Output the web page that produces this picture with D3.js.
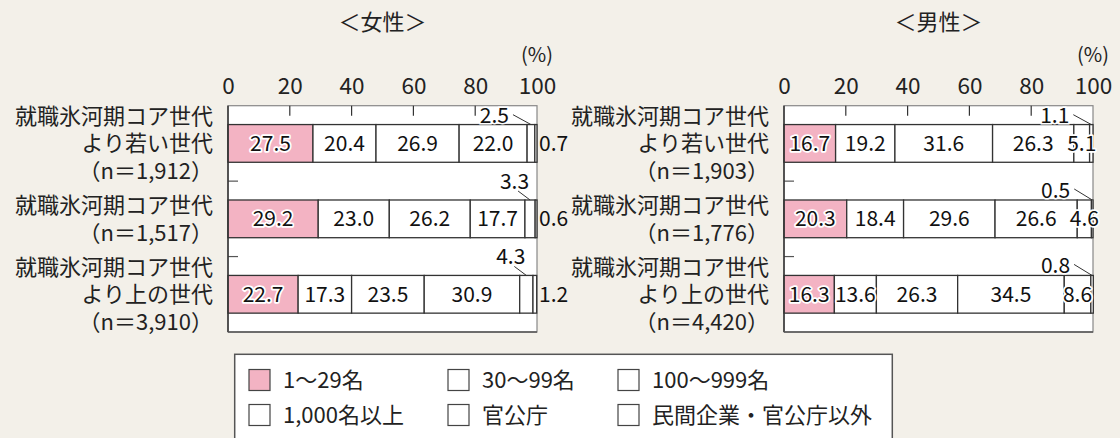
<!DOCTYPE html>
<html><head><meta charset="utf-8">
<script src="https://cdn.jsdelivr.net/npm/d3@7"></script>
<style>
html,body{margin:0;padding:0;background:#f3f0e9;}
svg{display:block;font-family:"Noto Sans CJK JP","Noto Sans",sans-serif;}
</style></head>
<body>
<svg id="c" width="1120" height="438"></svg>
<script>
// ---- data ----
const seriesNames = ["1～29名","30～99名","100～999名","1,000名以上","官公庁","民間企業・官公庁以外"];
const femaleCategories = [
  ["就職氷河期コア世代","より若い世代","（n＝1,912）"],
  ["就職氷河期コア世代","（n＝1,517）"],
  ["就職氷河期コア世代","より上の世代","（n＝3,910）"]
];
const maleCategories = [
  ["就職氷河期コア世代","より若い世代","（n＝1,903）"],
  ["就職氷河期コア世代","（n＝1,776）"],
  ["就職氷河期コア世代","より上の世代","（n＝4,420）"]
];
const femaleValues = [
  [27.5,20.4,26.9,22.0,2.5,0.7],
  [29.2,23.0,26.2,17.7,3.3,0.6],
  [22.7,17.3,23.5,30.9,4.3,1.2]
];
const maleValues = [
  [16.7,19.2,31.6,26.3,5.1,1.1],
  [20.3,18.4,29.6,26.6,4.6,0.5],
  [16.3,13.6,26.3,34.5,8.6,0.8]
];
const xTicks = [0,20,40,60,80,100];
const panelTitles = ["＜女性＞","＜男性＞"];

// ---- layout / style ----
const colors = ["#f3b3c3","#ffffff","#ffffff","#ffffff","#ffffff","#ffffff"];
const plotTop = 105.7, plotBottom = 332;
const panels = [
  {title:panelTitles[0], cats:femaleCategories, vals:femaleValues, x0:228, x1:537,
   labelMode:["in","in","in","in","callout","right"], lift:19},
  {title:panelTitles[1], cats:maleCategories, vals:maleValues, x0:784, x1:1093,
   labelMode:["in","in","in","in","in","callout"], lift:10}
];
const svg = d3.select("#c");
const FS = 21;

panels.forEach(p => {
  const g = svg.append("g");
  const x = d3.scaleLinear().domain([0,100]).range([p.x0,p.x1]);
  const idx = p.cats.map((c,i)=>i);
  const y = d3.scaleBand().domain(idx).range([plotTop,plotBottom]).paddingInner(0.5).paddingOuter(0.25);

  // title
  g.append("text").attr("x",(p.x0+p.x1)/2).attr("y",30).attr("text-anchor","middle")
    .attr("font-size",22).attr("fill","#222").text(p.title);
  g.append("text").attr("x",p.x1).attr("y",62).attr("text-anchor","middle")
    .attr("font-size",20).attr("fill","#222").text("(%)");

  // plot bg
  g.append("rect").attr("x",p.x0).attr("y",plotTop).attr("width",p.x1-p.x0).attr("height",plotBottom-plotTop)
    .attr("fill","#fff").attr("stroke","#888").attr("stroke-width",1.2);

  // top axis
  const ax = d3.axisTop(x).tickValues(xTicks).tickSize(0).tickPadding(0).tickFormat(d3.format("d"));
  const axg = g.append("g").attr("transform",`translate(0,${plotTop-12})`).call(ax);
  axg.select(".domain").remove();
  axg.selectAll("text").attr("font-size",22.5).attr("fill","#222").attr("font-family","Noto Sans CJK JP");
  // inner ticks
  g.selectAll(".xt").data(xTicks.filter(t=>t>0&&t<100)).join("line")
    .attr("x1",d=>x(d)).attr("x2",d=>x(d)).attr("y1",plotTop).attr("y2",plotTop+10)
    .attr("stroke","#333").attr("stroke-width",1.2);
  // y ticks at band boundaries
  g.selectAll(".yt").data(idx.slice(1)).join("line")
    .attr("x1",p.x0).attr("x2",p.x0+10)
    .attr("y1",i=>y(i)-(y.step()-y.bandwidth())/2).attr("y2",i=>y(i)-(y.step()-y.bandwidth())/2)
    .attr("stroke","#555").attr("stroke-width",1.2);

  // bars
  const rows = p.vals.map((v,i)=>{const o={i}; seriesNames.forEach((s,k)=>o[s]=v[k]); return o;});
  const stack = d3.stack().keys(seriesNames)(rows);
  stack.forEach((layer,k)=>{
    g.append("g").selectAll("rect").data(layer).join("rect")
      .attr("x",d=>x(d[0])).attr("width",d=>x(d[1])-x(d[0]))
      .attr("y",d=>y(d.data.i)).attr("height",y.bandwidth())
      .attr("fill",colors[k]).attr("stroke","#333").attr("stroke-width",1.3);
  });

  // left + bottom axis lines darker
  g.append("line").attr("x1",p.x0).attr("x2",p.x0).attr("y1",plotTop).attr("y2",plotBottom).attr("stroke","#333").attr("stroke-width",1.5);
  g.append("line").attr("x1",p.x0).attr("x2",p.x1).attr("y1",plotBottom).attr("y2",plotBottom).attr("stroke","#555").attr("stroke-width",1.5);

  // labels
  stack.forEach((layer,k)=>{
    layer.forEach(d=>{
      const i = d.data.i, v = d[1]-d[0];
      const cx = (x(d[0])+x(d[1]))/2, top = y(i), cy = top + y.bandwidth()/2;
      const mode = p.labelMode[k];
      const txt = v.toFixed(1);
      if (mode==="in") {
        g.append("text").attr("x",cx).attr("y",cy+FS*0.36).attr("text-anchor","middle")
          .attr("font-size",FS).attr("fill","#111").attr("stroke","#fff").attr("stroke-width",3.5)
          .attr("stroke-linejoin","round").attr("paint-order","stroke").text(txt);
      } else if (mode==="right") {
        g.append("text").attr("x",p.x1+2).attr("y",cy+FS*0.36).attr("text-anchor","start")
          .attr("font-size",FS).attr("fill","#111").text(txt);
      } else {
        const lift = Math.min(p.lift, top - plotTop - 10);
        const ly = top - lift;
        let tx, sx, sy;
        if (lift >= 15) { tx = cx - 1; sx = tx - 11; sy = ly + 10; }
        else { tx = cx - 22; sx = tx + 4; sy = ly - 1; }
        g.append("text").attr("x",tx).attr("y",ly+FS*0.36).attr("text-anchor","end")
          .attr("font-size",FS).attr("fill","#111").attr("stroke","#fff").attr("stroke-width",3)
          .attr("paint-order","stroke").text(txt);
        g.append("line").attr("x1",sx).attr("y1",sy).attr("x2",cx).attr("y2",top)
          .attr("stroke","#333").attr("stroke-width",1);
      }
    });
  });

  // category labels (one text element per category, lines as tspans)
  p.cats.forEach((lines,i)=>{
    const cy = y(i)+y.bandwidth()/2;
    const n = lines.length, lh = 27.5;
    const t = g.append("text").attr("text-anchor","end").attr("font-size",22).attr("fill","#222");
    lines.forEach((ln,j)=>{
      t.append("tspan").attr("x",p.x0-15).attr("y",cy + (j-(n-1)/2)*lh + 22*0.36).text(ln);
    });
  });
});

// legend
const lg = svg.append("g");
lg.append("rect").attr("x",234.7).attr("y",354.3).attr("width",657.6).attr("height",120)
  .attr("fill","#fff").attr("stroke","#555").attr("stroke-width",1.5);
const colX = [249, 448, 618];
const rowY = [380, 415];
seriesNames.forEach((s,k)=>{
  const cx = colX[k%3], cy = rowY[Math.floor(k/3)];
  lg.append("rect").attr("x",cx).attr("y",cy-10.5).attr("width",21).attr("height",21)
    .attr("fill",colors[k]).attr("stroke","#444").attr("stroke-width",1.2);
  lg.append("text").attr("x",cx+34).attr("y",cy+22*0.36).attr("font-size",22).attr("fill","#222").text(s);
});
</script>
</body></html>
